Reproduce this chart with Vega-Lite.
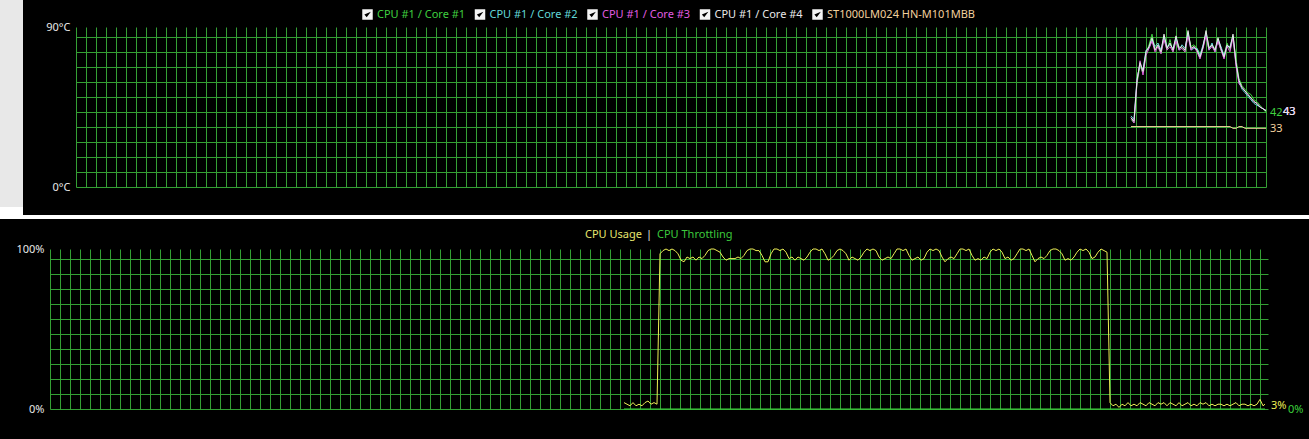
{
  "$schema": "https://vega.github.io/schema/vega-lite/v6.json",
  "background": "#ffffff",
  "padding": 0,
  "columns": 2,
  "spacing": 0,
  "bounds": "flush",
  "align": "each",
  "resolve": {"scale": {"x": "independent", "y": "independent", "color": "independent", "shape": "independent"}},
  "datasets": {
    "temps": [
      {"t":1055,"c1":38,"c2":40,"c3":39,"c4":39,"d":34},
      {"t":1058,"c1":36,"c2":38,"c3":36,"c4":37,"d":34},
      {"t":1061,"c1":58,"c2":61,"c3":59,"c4":60,"d":34},
      {"t":1064,"c1":68,"c2":69,"c3":71,"c4":70,"d":34},
      {"t":1067,"c1":64,"c2":66,"c3":63,"c4":65,"d":34},
      {"t":1070,"c1":75,"c2":77,"c3":74,"c4":76,"d":34},
      {"t":1073,"c1":80,"c2":78,"c3":78,"c4":79,"d":34},
      {"t":1076,"c1":86,"c2":83,"c3":82,"c4":84,"d":34},
      {"t":1079,"c1":78,"c2":79,"c3":76,"c4":77,"d":34},
      {"t":1082,"c1":79,"c2":81,"c3":79,"c4":80,"d":34},
      {"t":1085,"c1":75,"c2":77,"c3":75,"c4":76,"d":34},
      {"t":1088,"c1":84,"c2":85,"c3":83,"c4":86,"d":34},
      {"t":1091,"c1":77,"c2":79,"c3":77,"c4":78,"d":34},
      {"t":1094,"c1":83,"c2":80,"c3":79,"c4":81,"d":34},
      {"t":1097,"c1":76,"c2":78,"c3":76,"c4":77,"d":34},
      {"t":1100,"c1":83,"c2":84,"c3":82,"c4":85,"d":34},
      {"t":1103,"c1":79,"c2":77,"c3":77,"c4":78,"d":34},
      {"t":1106,"c1":78,"c2":80,"c3":78,"c4":79,"d":34},
      {"t":1109,"c1":76,"c2":78,"c3":76,"c4":77,"d":34},
      {"t":1112,"c1":86,"c2":87,"c3":85,"c4":88,"d":34},
      {"t":1115,"c1":79,"c2":77,"c3":77,"c4":78,"d":34},
      {"t":1118,"c1":80,"c2":78,"c3":79,"c4":79,"d":34},
      {"t":1121,"c1":78,"c2":78,"c3":76,"c4":77,"d":34},
      {"t":1124,"c1":75,"c2":74,"c3":72,"c4":73,"d":34},
      {"t":1127,"c1":78,"c2":80,"c3":78,"c4":79,"d":34},
      {"t":1130,"c1":87,"c2":86,"c3":85,"c4":88,"d":34},
      {"t":1133,"c1":79,"c2":77,"c3":77,"c4":78,"d":34},
      {"t":1136,"c1":79,"c2":81,"c3":79,"c4":80,"d":34},
      {"t":1139,"c1":78,"c2":76,"c3":76,"c4":77,"d":34},
      {"t":1142,"c1":82,"c2":83,"c3":82,"c4":84,"d":34},
      {"t":1145,"c1":77,"c2":79,"c3":77,"c4":78,"d":34},
      {"t":1148,"c1":74,"c2":74,"c3":72,"c4":73,"d":34},
      {"t":1151,"c1":81,"c2":79,"c3":79,"c4":80,"d":34},
      {"t":1154,"c1":77,"c2":79,"c3":76,"c4":78,"d":34},
      {"t":1157,"c1":85,"c2":85,"c3":84,"c4":86,"d":33},
      {"t":1160,"c1":72,"c2":69,"c3":68,"c4":70,"d":33},
      {"t":1163,"c1":61,"c2":59,"c3":58,"c4":60,"d":34},
      {"t":1166,"c1":57,"c2":55,"c3":56,"c4":56,"d":34},
      {"t":1169,"c1":55,"c2":53,"c3":54,"c4":54,"d":33},
      {"t":1172,"c1":53,"c2":51,"c3":52,"c4":52,"d":33},
      {"t":1175,"c1":52,"c2":49,"c3":50,"c4":50,"d":33},
      {"t":1178,"c1":49,"c2":47,"c3":48,"c4":48,"d":33},
      {"t":1181,"c1":48,"c2":46,"c3":47,"c4":47,"d":33},
      {"t":1184,"c1":46,"c2":45,"c3":45,"c4":45,"d":33},
      {"t":1187,"c1":44,"c2":44,"c3":44,"c4":44,"d":33},
      {"t":1190,"c1":42,"c2":43,"c3":43,"c4":43,"d":33}
    ],
    "load": [
      {"t":574,"u":4,"th":0},{"t":577,"u":3,"th":0},{"t":580,"u":2,"th":0},{"t":583,"u":4,"th":0},
      {"t":586,"u":2,"th":0},{"t":589,"u":3,"th":0},{"t":592,"u":2,"th":0},{"t":595,"u":4,"th":0},
      {"t":598,"u":5,"th":0},{"t":601,"u":3,"th":0},{"t":604,"u":4,"th":0},{"t":607,"u":3,"th":0},
      {"t":610,"u":97,"th":0},{"t":613,"u":99,"th":0},{"t":616,"u":100,"th":0},{"t":619,"u":99,"th":0},
      {"t":622,"u":100,"th":0},{"t":625,"u":99,"th":0},{"t":628,"u":97,"th":0},{"t":631,"u":93,"th":0},
      {"t":634,"u":92,"th":0},{"t":637,"u":95,"th":0},{"t":640,"u":94,"th":0},{"t":643,"u":95,"th":0},
      {"t":646,"u":93,"th":0},{"t":649,"u":95,"th":0},{"t":652,"u":94,"th":0},{"t":655,"u":96,"th":0},
      {"t":658,"u":99,"th":0},{"t":661,"u":100,"th":0},{"t":664,"u":100,"th":0},{"t":667,"u":99,"th":0},
      {"t":670,"u":98,"th":0},{"t":673,"u":95,"th":0},{"t":676,"u":93,"th":0},{"t":679,"u":94,"th":0},
      {"t":682,"u":94,"th":0},{"t":685,"u":94,"th":0},{"t":688,"u":95,"th":0},{"t":691,"u":94,"th":0},
      {"t":694,"u":96,"th":0},{"t":697,"u":99,"th":0},{"t":700,"u":100,"th":0},{"t":703,"u":100,"th":0},
      {"t":706,"u":99,"th":0},{"t":709,"u":99,"th":0},{"t":712,"u":96,"th":0},{"t":715,"u":92,"th":0},
      {"t":718,"u":92,"th":0},{"t":721,"u":97,"th":0},{"t":724,"u":100,"th":0},{"t":727,"u":100,"th":0},
      {"t":730,"u":99,"th":0},{"t":733,"u":100,"th":0},{"t":736,"u":98,"th":0},{"t":739,"u":94,"th":0},
      {"t":742,"u":95,"th":0},{"t":745,"u":93,"th":0},{"t":748,"u":95,"th":0},{"t":751,"u":94,"th":0},
      {"t":754,"u":93,"th":0},{"t":757,"u":95,"th":0},{"t":760,"u":98,"th":0},{"t":763,"u":100,"th":0},
      {"t":766,"u":100,"th":0},{"t":769,"u":99,"th":0},{"t":772,"u":100,"th":0},{"t":775,"u":97,"th":0},
      {"t":778,"u":93,"th":0},{"t":781,"u":94,"th":0},{"t":784,"u":96,"th":0},{"t":787,"u":99,"th":0},
      {"t":790,"u":100,"th":0},{"t":793,"u":99,"th":0},{"t":796,"u":97,"th":0},{"t":799,"u":93,"th":0},
      {"t":802,"u":95,"th":0},{"t":805,"u":94,"th":0},{"t":808,"u":93,"th":0},{"t":811,"u":95,"th":0},
      {"t":814,"u":98,"th":0},{"t":817,"u":100,"th":0},{"t":820,"u":99,"th":0},{"t":823,"u":100,"th":0},
      {"t":826,"u":99,"th":0},{"t":829,"u":95,"th":0},{"t":832,"u":93,"th":0},{"t":835,"u":94,"th":0},
      {"t":838,"u":95,"th":0},{"t":841,"u":94,"th":0},{"t":844,"u":97,"th":0},{"t":847,"u":100,"th":0},
      {"t":850,"u":100,"th":0},{"t":853,"u":99,"th":0},{"t":856,"u":100,"th":0},{"t":859,"u":96,"th":0},
      {"t":862,"u":93,"th":0},{"t":865,"u":94,"th":0},{"t":868,"u":95,"th":0},{"t":871,"u":93,"th":0},
      {"t":874,"u":94,"th":0},{"t":877,"u":98,"th":0},{"t":880,"u":100,"th":0},{"t":883,"u":99,"th":0},
      {"t":886,"u":100,"th":0},{"t":889,"u":99,"th":0},{"t":892,"u":95,"th":0},{"t":895,"u":92,"th":0},
      {"t":898,"u":94,"th":0},{"t":901,"u":95,"th":0},{"t":904,"u":94,"th":0},{"t":907,"u":97,"th":0},
      {"t":910,"u":100,"th":0},{"t":913,"u":100,"th":0},{"t":916,"u":99,"th":0},{"t":919,"u":100,"th":0},
      {"t":922,"u":96,"th":0},{"t":925,"u":93,"th":0},{"t":928,"u":94,"th":0},{"t":931,"u":93,"th":0},
      {"t":934,"u":95,"th":0},{"t":937,"u":94,"th":0},{"t":940,"u":98,"th":0},{"t":943,"u":100,"th":0},
      {"t":946,"u":99,"th":0},{"t":949,"u":100,"th":0},{"t":952,"u":98,"th":0},{"t":955,"u":94,"th":0},
      {"t":958,"u":95,"th":0},{"t":961,"u":93,"th":0},{"t":964,"u":94,"th":0},{"t":967,"u":97,"th":0},
      {"t":970,"u":100,"th":0},{"t":973,"u":100,"th":0},{"t":976,"u":99,"th":0},{"t":979,"u":100,"th":0},
      {"t":982,"u":96,"th":0},{"t":985,"u":92,"th":0},{"t":988,"u":94,"th":0},{"t":991,"u":95,"th":0},
      {"t":994,"u":94,"th":0},{"t":997,"u":96,"th":0},{"t":1000,"u":99,"th":0},{"t":1003,"u":100,"th":0},
      {"t":1006,"u":100,"th":0},{"t":1009,"u":99,"th":0},{"t":1012,"u":97,"th":0},{"t":1015,"u":93,"th":0},
      {"t":1018,"u":94,"th":0},{"t":1021,"u":93,"th":0},{"t":1024,"u":95,"th":0},{"t":1027,"u":98,"th":0},
      {"t":1030,"u":100,"th":0},{"t":1033,"u":99,"th":0},{"t":1036,"u":100,"th":0},{"t":1039,"u":98,"th":0},
      {"t":1042,"u":94,"th":0},{"t":1045,"u":95,"th":0},{"t":1048,"u":98,"th":0},{"t":1051,"u":100,"th":0},
      {"t":1054,"u":99,"th":0},{"t":1057,"u":98,"th":0},
      {"t":1060,"u":4,"th":0},{"t":1063,"u":2,"th":0},{"t":1066,"u":3,"th":0},{"t":1069,"u":1,"th":0},
      {"t":1072,"u":3,"th":0},{"t":1075,"u":2,"th":0},{"t":1078,"u":4,"th":0},{"t":1081,"u":2,"th":0},
      {"t":1084,"u":3,"th":0},{"t":1087,"u":2,"th":0},{"t":1090,"u":4,"th":0},{"t":1093,"u":3,"th":0},
      {"t":1096,"u":2,"th":0},{"t":1099,"u":4,"th":0},{"t":1102,"u":3,"th":0},{"t":1105,"u":2,"th":0},
      {"t":1108,"u":4,"th":0},{"t":1111,"u":3,"th":0},{"t":1114,"u":4,"th":0},{"t":1117,"u":2,"th":0},
      {"t":1120,"u":4,"th":0},{"t":1123,"u":3,"th":0},{"t":1126,"u":2,"th":0},{"t":1129,"u":4,"th":0},
      {"t":1132,"u":2,"th":0},{"t":1135,"u":3,"th":0},{"t":1138,"u":4,"th":0},{"t":1141,"u":2,"th":0},
      {"t":1144,"u":3,"th":0},{"t":1147,"u":2,"th":0},{"t":1150,"u":4,"th":0},{"t":1153,"u":3,"th":0},
      {"t":1156,"u":4,"th":0},{"t":1159,"u":2,"th":0},{"t":1162,"u":3,"th":0},{"t":1165,"u":2,"th":0},
      {"t":1168,"u":3,"th":0},{"t":1171,"u":3,"th":0},{"t":1174,"u":2,"th":0},{"t":1177,"u":3,"th":0},
      {"t":1180,"u":2,"th":0},{"t":1183,"u":3,"th":0},{"t":1186,"u":4,"th":0},{"t":1189,"u":2,"th":0},
      {"t":1192,"u":3,"th":0},{"t":1195,"u":3,"th":0},{"t":1198,"u":2,"th":0},{"t":1201,"u":3,"th":0},
      {"t":1204,"u":2,"th":0},{"t":1207,"u":3,"th":0},{"t":1210,"u":6,"th":0},{"t":1213,"u":2,"th":0},
      {"t":1215,"u":3,"th":0}
    ]
  },
  "concat": [
    {
      "width": 23,
      "height": 207,
      "data": {"values": []},
      "mark": {"type": "point", "opacity": 0},
      "view": {"fill": "#e8e8e8"}
    },
    {
      "width": 1286,
      "height": 215,
      "view": {"fill": "#000000"},
      "data": {"name": "temps"},
      "transform": [{"fold": ["c1", "c2", "c3", "c4", "d"], "as": ["series", "v"]}],
      "encoding": {
        "x": {
          "field": "t",
          "type": "quantitative",
          "scale": {"domain": [0, 1190], "range": [53, 1243], "nice": false, "zero": false},
          "axis": {"orient": "top", "grid": true, "labels": false, "ticks": false, "domain": false, "tickCount": 119, "title": null}
        },
        "y": {
          "field": "v",
          "type": "quantitative",
          "scale": {"domain": [0, 90], "range": [187, 27], "nice": false, "zero": false},
          "axis": {
            "orient": "left",
            "offset": -53,
            "title": null,
            "ticks": false,
            "domain": false,
            "labelPadding": 6,
            "labelOverlap": false,
            "labelFlush": false,
            "values": [0, 8.4375, 16.875, 25.3125, 33.75, 42.1875, 50.625, 59.0625, 67.5, 75.9375, 84.375, 90],
            "labelExpr": "datum.value == 90 ? '90°C' : datum.value == 0 ? '0°C' : ''",
            "gridOpacity": {"condition": {"test": "datum.value == 90", "value": 0}, "value": 1}
          }
        }
      },
      "layer": [
        {
          "mark": {"type": "line", "strokeWidth": 1},
          "encoding": {
            "color": {"field": "series", "type": "nominal", "legend": null,
              "scale": {"range": ["#3fcf3f", "#62d8d8", "#e05ce0", "#e8e8e8", "#f2d09e"]}}
          }
        },
        {
          "transform": [{"filter": "datum.t == 1190 && (datum.series == 'c1' || datum.series == 'd')"}],
          "mark": {"type": "text", "align": "left", "baseline": "middle", "dx": 4, "dy": 1},
          "encoding": {
            "text": {"field": "v", "type": "quantitative"},
            "color": {"field": "series", "type": "nominal", "legend": null}
          }
        },
        {
          "transform": [{"filter": "datum.t == 1190 && datum.series != 'c1' && datum.series != 'd'"}],
          "mark": {"type": "text", "align": "left", "baseline": "middle", "dx": 17, "dy": 1},
          "encoding": {
            "text": {"field": "v", "type": "quantitative"},
            "color": {"field": "series", "type": "nominal", "legend": null}
          }
        },
        {
          "transform": [{"filter": "datum.t < 0"}],
          "mark": {"type": "point", "filled": true, "fill": "#f4f4f4", "stroke": "#3cbf3c", "strokeWidth": 1.6},
          "encoding": {
            "shape": {
              "field": "series",
              "type": "nominal",
              "scale": {
                "domain": ["c1", "c2", "c3", "c4", "d"],
                "range": [
                  "M-1,-1H1V1H-1Z M-0.6,0L-0.15,0.5L0.65,-0.55",
                  "M-1,-1H1V1H-1Z M-0.6,0L-0.15,0.5L0.65,-0.55",
                  "M-1,-1H1V1H-1Z M-0.6,0L-0.15,0.5L0.65,-0.55",
                  "M-1,-1H1V1H-1Z M-0.6,0L-0.15,0.5L0.65,-0.55",
                  "M-1,-1H1V1H-1Z M-0.6,0L-0.15,0.5L0.65,-0.55"
                ]
              },
              "legend": {
                "orient": "none",
                "legendX": 338,
                "legendY": 8,
                "direction": "horizontal",
                "columns": 5,
                "title": null,
                "padding": 0,
                "symbolSize": 110,
                "symbolFillColor": "#f4f4f4",
                "symbolStrokeColor": "#3cbf3c",
                "symbolStrokeWidth": 1.6,
                "symbolOpacity": 1,
                "labelOffset": 3,
                "columnPadding": 5.5,
                "labelLimit": 300,
                "labelExpr": "datum.value == 'c1' ? 'CPU #1 / Core #1' : datum.value == 'c2' ? 'CPU #1 / Core #2' : datum.value == 'c3' ? 'CPU #1 / Core #3' : datum.value == 'c4' ? 'CPU #1 / Core #4' : 'ST1000LM024 HN-M101MBB'",
                "labelColor": {"expr": "datum.value == 'c1' ? '#3fcf3f' : datum.value == 'c2' ? '#62d8d8' : datum.value == 'c3' ? '#e05ce0' : datum.value == 'c4' ? '#e8e8e8' : '#f2d09e'"}
              }
            }
          }
        }
      ]
    },
    {
      "width": 23,
      "height": 4,
      "data": {"values": []},
      "mark": {"type": "point", "opacity": 0},
      "view": {"fill": "#ffffff"}
    },
    {
      "width": 1286,
      "height": 4,
      "data": {"values": []},
      "mark": {"type": "point", "opacity": 0},
      "view": {"fill": "#ffffff"}
    },
    {
      "width": 23,
      "height": 220,
      "data": {"values": []},
      "mark": {"type": "point", "opacity": 0},
      "view": {"fill": "#000000"}
    },
    {
      "width": 1286,
      "height": 220,
      "view": {"fill": "#000000"},
      "data": {"name": "load"},
      "transform": [
        {"fold": ["th", "u"], "as": ["series", "v"]},
        {"calculate": "datum.v + '%'", "as": "label"}
      ],
      "encoding": {
        "x": {
          "field": "t",
          "type": "quantitative",
          "scale": {"domain": [0, 1218], "range": [27, 1245], "nice": false, "zero": false},
          "axis": {"orient": "top", "grid": true, "labels": false, "ticks": false, "domain": false, "tickCount": 121, "title": null}
        },
        "y": {
          "field": "v",
          "type": "quantitative",
          "scale": {"domain": [0, 100], "range": [190, 30], "nice": false, "zero": false},
          "axis": {
            "orient": "left",
            "offset": -27,
            "title": null,
            "ticks": false,
            "domain": false,
            "labelPadding": 6,
            "labelOverlap": false,
            "labelFlush": false,
            "values": [0, 9.375, 18.75, 28.125, 37.5, 46.875, 56.25, 65.625, 75, 84.375, 93.75, 100],
            "labelExpr": "datum.value == 100 ? '100%' : datum.value == 0 ? '0%' : ''",
            "gridOpacity": {"condition": {"test": "datum.value == 100", "value": 0}, "value": 1}
          }
        }
      },
      "layer": [
        {
          "mark": {"type": "line", "strokeWidth": 1},
          "encoding": {
            "color": {"field": "series", "type": "nominal", "legend": null,
              "scale": {"domain": ["u", "th"], "range": ["#eeee55", "#3cd23c"]}}
          }
        },
        {
          "transform": [{"filter": "datum.t == 1215 && datum.series == 'u'"}],
          "mark": {"type": "text", "align": "left", "baseline": "middle", "dx": 6, "dy": 2},
          "encoding": {
            "text": {"field": "label"},
            "color": {"field": "series", "type": "nominal", "legend": null}
          }
        },
        {
          "transform": [{"filter": "datum.t == 1215 && datum.series == 'th'"}],
          "mark": {"type": "text", "align": "left", "baseline": "middle", "dx": 23, "dy": 1},
          "encoding": {
            "text": {"field": "label"},
            "color": {"field": "series", "type": "nominal", "legend": null}
          }
        },
        {
          "transform": [{"filter": "datum.t < 0"}],
          "mark": {"type": "point", "fill": "transparent", "stroke": "transparent", "strokeWidth": 0},
          "encoding": {
            "shape": {
              "field": "series",
              "type": "nominal",
              "scale": {"domain": ["u", "sep", "th"], "range": ["circle", "circle", "circle"]},
              "legend": {
                "orient": "none",
                "legendX": 562,
                "legendY": 10,
                "direction": "horizontal",
                "columns": 3,
                "title": null,
                "padding": 0,
                "symbolSize": 0,
                "symbolOpacity": 0,
                "symbolStrokeWidth": 0,
                "symbolFillColor": "transparent",
                "symbolStrokeColor": "transparent",
                "labelOffset": -11,
                "columnPadding": 4,
                "labelExpr": "datum.value == 'u' ? 'CPU Usage' : datum.value == 'th' ? 'CPU Throttling' : '|'",
                "labelColor": {"expr": "datum.value == 'u' ? '#e6e66e' : datum.value == 'th' ? '#3cc83c' : '#e0e0e0'"}
              }
            }
          }
        }
      ]
    }
  ],
  "config": {
    "view": {"stroke": null},
    "font": "Noto Sans",
    "axis": {"labelFont": "Noto Sans", "labelFontSize": 11, "labelColor": "#e8e8e8", "gridColor": "#34a034", "gridWidth": 1, "gridOpacity": 1},
    "legend": {"labelFont": "Noto Sans", "labelFontSize": 11, "symbolStrokeColor": "#3cbf3c"},
    "text": {"font": "Noto Sans", "fontSize": 11}
  }
}
